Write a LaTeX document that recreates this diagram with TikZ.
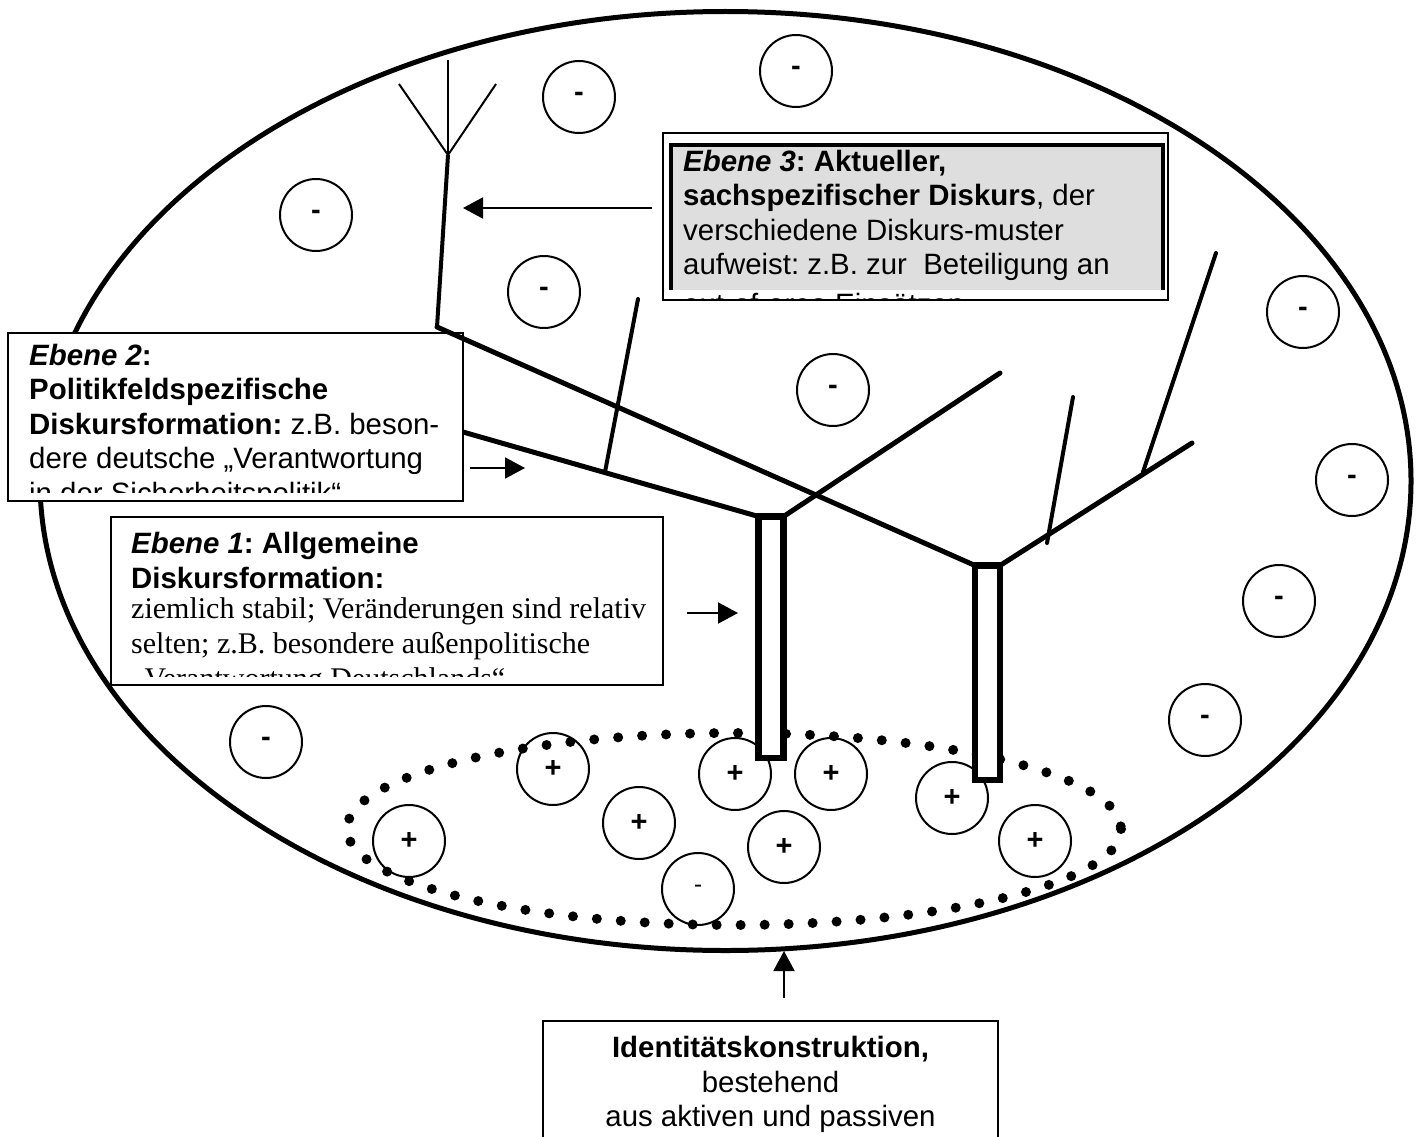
\documentclass[tikz,border=0pt]{standalone}
\usepackage{fontspec}
\setmainfont{Liberation Sans}
\newfontfamily\timesfont{Liberation Serif}
\usetikzlibrary{arrows.meta}
\definecolor{boxgray}{HTML}{DEDEDE}
\begin{document}
\frenchspacing
\begin{tikzpicture}[x=1pt,y=-1pt,
  bigring/.style={line width=5pt},
  dotring/.style={line width=10pt, line cap=round, dash pattern=on 0pt off 24pt},
  sign/.style={circle, draw, line width=2pt, minimum size=72pt, inner sep=0pt, font=\bfseries\fontsize{29}{34}\selectfont},
  branch/.style={line width=5pt, line cap=round},
  twig/.style={line width=4pt, line cap=round},
  stem/.style={line width=4pt},
  antenna/.style={line width=2pt},
  pillar/.style={line width=6.5pt, fill=white},
  frame/.style={line width=2pt, fill=white},
  arr/.style={line width=2pt, -{Triangle[length=20pt, width=21pt]}},
  txt/.style={anchor=base west, inner sep=0pt, font=\fontsize{29.4}{34}\selectfont},
  ser/.style={anchor=base west, inner sep=0pt, font=\timesfont\fontsize{30}{34}\selectfont},
  ctxt/.style={anchor=base, inner sep=0pt, font=\fontsize{29.4}{34}\selectfont},
]
\useasboundingbox[fill=white] (0,0) rectangle (1418,1137);

% outer ellipse and dotted ring
\coordinate (oc) at (725.5,481);
\coordinate (ic) at (734,829);
\draw[bigring] (oc) ellipse [x radius=685.5, y radius=469.5];
\draw[dotring] (ic) ellipse [x radius=387, y radius=96];

% minus circles
\node[sign] (m1) at (796,71) {-};
\node[sign] (m2) at (579,97) {-};
\node[sign] (m3) at (316,215) {-};
\node[sign] (m4) at (544,292) {-};
\node[sign] (m5) at (833,390) {-};
\node[sign] (m6) at (1303,312) {-};
\node[sign] (m7) at (1352,480) {-};
\node[sign] (m8) at (1279,601) {-};
\node[sign] (m9) at (1205,720) {-};
\node[sign] (m10) at (266,742) {-};
\node[sign, font=\fontsize{24}{28}\selectfont] (m11) at (698,889) {-};

% plus circles
\node[sign] (p1) at (553,769) {+};
\node[sign] (p2) at (409,841) {+};
\node[sign] (p3) at (639,823) {+};
\node[sign] (p4) at (735,774) {+};
\node[sign] (p5) at (831,774) {+};
\node[sign] (p6) at (784,847) {+};
\node[sign] (p7) at (952,798) {+};
\node[sign] (p8) at (1035,841) {+};

% tree coordinates
\coordinate (q1tl) at (758.5,516.5);
\coordinate (q1tr) at (783.5,516.5);
\coordinate (q1br) at (783.5,758);
\coordinate (q2tl) at (975,565.5);
\coordinate (q2tr) at (1000,565.5);
\coordinate (q2br) at (1000,780);
\coordinate (t1a) at (420,419.7);
\coordinate (t1b) at (1000,373);
\coordinate (t2a) at (437,327);
\coordinate (t2b) at (1192,443);
\coordinate (tip) at (448,155);
\coordinate (an1) at (448,60);
\coordinate (an2) at (399,84);
\coordinate (an3) at (496,84);
\coordinate (w1a) at (605,472);
\coordinate (w1b) at (638,299);
\coordinate (w2a) at (1047,543);
\coordinate (w2b) at (1073,397);
\coordinate (w3a) at (1143,472);
\coordinate (w3b) at (1216,253);

\draw[branch] (t1a) -- (q1tl);
\draw[branch] (q1tr) -- (t1b);
\draw[branch] (q2tr) -- (t2b);
\draw[twig] (w1a) -- (w1b);
\draw[twig] (w2a) -- (w2b);
\draw[twig] (w3a) -- (w3b);
\draw[pillar] (q1tl) rectangle (q1br);
\draw[pillar] (q2tl) rectangle (q2br);

% boxes
\draw[frame] (8,333) rectangle (463,501);
\draw[frame] (111,517) rectangle (663,685);
\draw[frame] (663,133) rectangle (1168,300);
\fill[boxgray] (671,145) rectangle (1163,290);
\draw[line width=4pt] (671,290) -- (671,145) -- (1163,145) -- (1163,290);
\draw[frame] (543,1150) -- (543,1021) -- (998,1021) -- (998,1150);

% long branch, stem and antenna over box 2
\draw[branch] (t2a) -- (q2tl);
\draw[stem] (t2a) -- (tip);
\draw[antenna] (tip) -- (an1);
\draw[antenna] (tip) -- (an2);
\draw[antenna] (tip) -- (an3);

% arrows
\coordinate (a3s) at (652,208);
\coordinate (a3e) at (463,208);
\coordinate (a2s) at (470,468);
\coordinate (a2e) at (525,468);
\coordinate (a1s) at (687,613);
\coordinate (a1e) at (738,613);
\coordinate (ais) at (784,998);
\coordinate (aie) at (784,951);
\draw[arr] (a3s) -- (a3e);
\draw[arr] (a2s) -- (a2e);
\draw[arr] (a1s) -- (a1e);
\draw[arr] (ais) -- (aie);

% Ebene 3 text
\node[txt] (e3a) at (683,171) {\textbf{\textit{Ebene 3}: Aktueller,}};
\node[txt] (e3b) at (683,205.5) {\textbf{sachspezifischer Diskurs}, der};
\node[txt] (e3c) at (683,240) {verschiedene Diskurs-muster};
\node[txt] (e3d) at (683,274.5) {aufweist: z.B. zur\ \ Beteiligung an};
\begin{scope}
\clip (672,290) rectangle (1162,298.5);
\node[txt] (e3e) at (683,314) {out-of-area Einsätzen};
\end{scope}

% Ebene 2 text
\node[txt] (e2a) at (29,365) {\textbf{\textit{Ebene 2}:}};
\node[txt] (e2b) at (29,399.5) {\textbf{Politikfeldspezifische}};
\node[txt] (e2c) at (29,434) {\textbf{Diskursformation:} z.B. beson-};
\node[txt] (e2d) at (29,468.5) {dere deutsche „Verantwortung};
\begin{scope}
\clip (9,470) rectangle (462,492);
\node[txt] (e2e) at (29,503) {in der Sicherheitspolitik“};
\end{scope}

% Ebene 1 text
\node[txt] (e1a) at (131,553) {\textbf{\textit{Ebene 1}: Allgemeine}};
\node[txt] (e1b) at (131,588) {\textbf{Diskursformation:}};
\node[ser] (e1c) at (131,618) {ziemlich stabil; Veränderungen sind relativ};
\node[ser] (e1d) at (131,653) {selten; z.B. besondere außenpolitische};
\begin{scope}
\clip (112,660) rectangle (662,676);
\node[ser] (e1e) at (131,688) {„Verantwortung Deutschlands“};
\end{scope}

% Identity box text
\node[ctxt] (ida) at (770.5,1057) {\textbf{Identitätskonstruktion,}};
\node[ctxt] (idb) at (770.5,1092) {bestehend};
\node[ctxt] (idc) at (770.5,1126) {aus aktiven und passiven};
\end{tikzpicture}
\end{document}
